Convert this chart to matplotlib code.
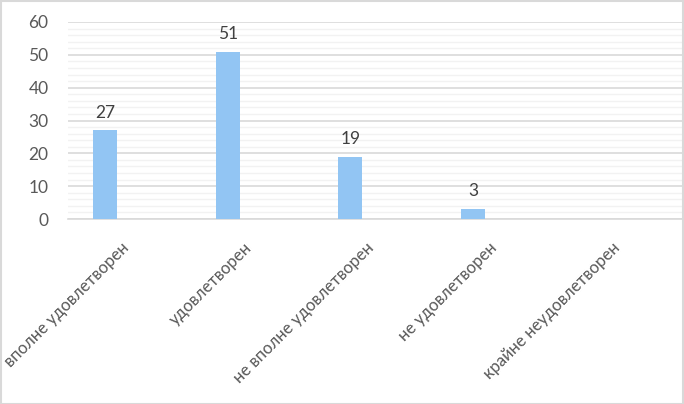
import matplotlib
matplotlib.use("Agg")
import matplotlib.pyplot as plt
from matplotlib.patches import Rectangle
from matplotlib.ticker import MultipleLocator

categories = ["вполне удовлетворен", "удовлетворен", "не вполне удовлетворен",
              "не удовлетворен", "крайне неудовлетворен"]
values = [27, 51, 19, 3, 0]
value_labels = ["27", "51", "19", "3", ""]
y_ticks = [0, 10, 20, 30, 40, 50, 60]

plt.rcParams['font.family'] = ['Lato', 'DejaVu Sans']

fig = plt.figure(figsize=(6.84, 4.04), dpi=100)
ax = fig.add_axes([68/684, 1-219/404, (682-68)/684, (219-22)/404])

xs = [i - 0.2 for i in range(len(categories))]
bars = ax.bar(xs, values, width=0.195, color="#92C5F3", zorder=3)

for x, v, lab in zip(xs, values, value_labels):
    if lab:
        ax.annotate(lab, (x, v), xytext=(0, 7), textcoords="offset points",
                    ha="center", va="bottom", fontsize=12.5, color="#404040")

ax.set_xlim(-0.5, 4.5)
ax.set_ylim(0, 60)
ax.set_yticks(y_ticks)
ax.yaxis.set_minor_locator(MultipleLocator(2))
ax.grid(which="major", axis="y", color="#D9D9D9", linewidth=1.2, zorder=0)
ax.grid(which="minor", axis="y", color="#F2F2F2", linewidth=1.0, zorder=0)
ax.set_axisbelow(True)

ax.set_xticks([i + 0.02 for i in range(len(categories))])
ax.set_xticklabels(categories, rotation=45, ha="right", va="top",
                   fontsize=12, color="#595959")
ax.tick_params(axis="x", length=0, pad=15)
ax.tick_params(axis="y", which="both", length=0, pad=14, labelsize=12.5,
               labelcolor="#595959")

for s in ["top", "right", "left"]:
    ax.spines[s].set_visible(False)
ax.spines["bottom"].set_color("#D9D9D9")
ax.spines["bottom"].set_linewidth(1.2)

fig.patches.append(Rectangle((0.001, 0.001), 0.997, 0.996, transform=fig.transFigure,
                             fill=False, edgecolor="#D9D9D9", linewidth=1.5))

fig.savefig("out.png", dpi=100)
